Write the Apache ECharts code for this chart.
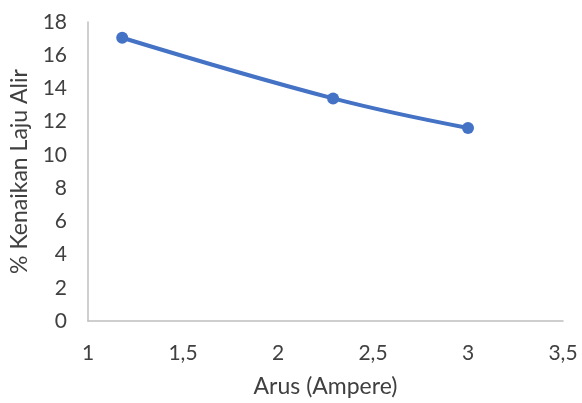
<!DOCTYPE html>
<html>
<head>
<meta charset="utf-8">
<script src="https://cdn.jsdelivr.net/npm/echarts@6/dist/echarts.min.js"></script>
<style>
  html, body { margin: 0; padding: 0; background: #fff; }
  #chart { width: 582px; height: 403px; }
</style>
</head>
<body>
<div id="chart"></div>
<script>
    // data
    var arus = [1.18, 2.29, 3.0];
    var kenaikan = [17.05, 13.4, 11.62];

    var points = [];
    for (var i = 0; i < arus.length; i++) {
        points.push([arus[i], kenaikan[i]]);
    }

    var chart = echarts.init(document.getElementById('chart'));
    var fontFam = 'Lato, "Open Sans", sans-serif';

    chart.setOption({
        animation: false,
        grid: { left: 88, right: 19, top: 22, bottom: 79 },
        xAxis: {
            type: 'value',
            min: 1,
            max: 3.5,
            interval: 0.5,
            name: 'Arus (Ampere)',
            nameLocation: 'middle',
            nameGap: 54,
            nameTextStyle: { color: '#404040', fontSize: 23, fontFamily: fontFam },
            axisLine: { show: true, lineStyle: { color: '#bfbfbf', width: 1.5 } },
            axisTick: { show: false },
            splitLine: { show: false },
            axisLabel: {
                color: '#404040',
                fontSize: 21,
                fontFamily: fontFam,
                margin: 22,
                formatter: function (v) { return String(v).replace('.', ','); }
            }
        },
        yAxis: {
            type: 'value',
            min: 0,
            max: 18,
            interval: 2,
            name: '% Kenaikan Laju Alir',
            nameLocation: 'middle',
            nameGap: 57,
            nameTextStyle: { color: '#404040', fontSize: 23, fontFamily: fontFam },
            axisLine: { show: true, lineStyle: { color: '#bfbfbf', width: 1.5 } },
            axisTick: { show: false },
            splitLine: { show: false },
            axisLabel: { color: '#404040', fontSize: 21, fontFamily: fontFam, margin: 21 }
        },
        series: [{
            type: 'line',
            data: points,
            smooth: 0.4,
            symbol: 'circle',
            symbolSize: 12,
            lineStyle: { color: '#4472c4', width: 4 },
            itemStyle: { color: '#4472c4' }
        }]
    });
</script>
</body>
</html>
